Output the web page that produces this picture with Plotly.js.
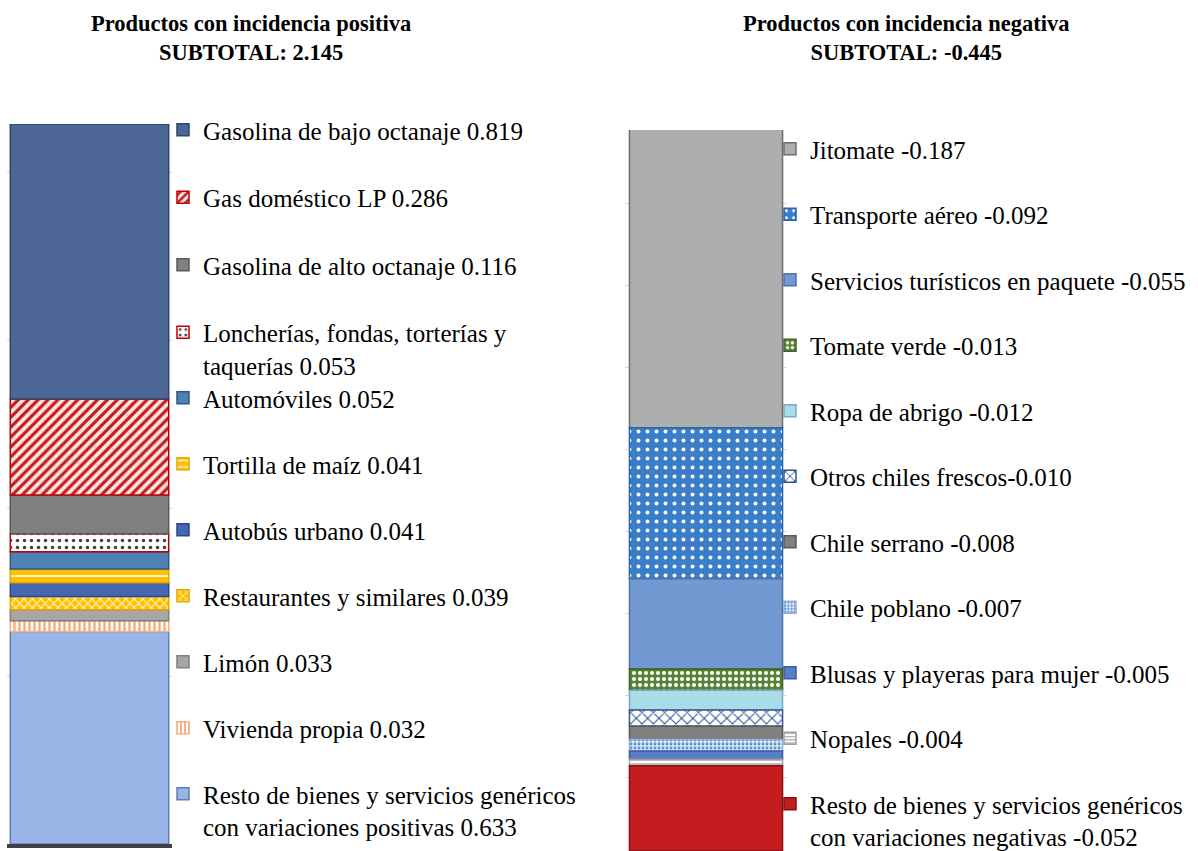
<!DOCTYPE html>
<html><head><meta charset="utf-8">
<script src="https://cdn.plot.ly/plotly-3.0.1.min.js"></script>
<style>body{margin:0;background:#fff}#chart{width:1198px;height:851px}</style>
</head><body><div id="chart"></div>
<script>
// ---- data ----
const posLabels = [
  "Gasolina de bajo octanaje 0.819",
  "Gas doméstico LP 0.286",
  "Gasolina de alto octanaje 0.116",
  "Loncherías, fondas, torterías y<br>taquerías 0.053",
  "Automóviles 0.052",
  "Tortilla de maíz 0.041",
  "Autobús urbano 0.041",
  "Restaurantes y similares 0.039",
  "Limón 0.033",
  "Vivienda propia 0.032",
  "Resto de bienes y servicios genéricos<br>con variaciones positivas 0.633"
];
const posValues = [0.819, 0.286, 0.116, 0.053, 0.052, 0.041, 0.041, 0.039, 0.033, 0.032, 0.633];

const negLabels = [
  "Jitomate -0.187",
  "Transporte aéreo -0.092",
  "Servicios turísticos en paquete -0.055",
  "Tomate verde -0.013",
  "Ropa de abrigo -0.012",
  "Otros chiles frescos-0.010",
  "Chile serrano -0.008",
  "Chile poblano -0.007",
  "Blusas y playeras para mujer -0.005",
  "Nopales -0.004",
  "Resto de bienes y servicios genéricos<br>con variaciones negativas -0.052"
];
const negValues = [-0.187, -0.092, -0.055, -0.013, -0.012, -0.010, -0.008, -0.007, -0.005, -0.004, -0.052];

const categories = ["Incidencia"];

// ---- styles ----
const posStyle = [
  {c:"#4C6795", l:"#2F4468"},
  {c:"#FBE3E3", l:"#C00000", p:{shape:"/", fgcolor:"#C41A1A", bgcolor:"#FBE3E3", size:7, solidity:0.45}},
  {c:"#808080", l:"#5A5A5A"},
  {c:"#FFFFFF", l:"#C00000", p:{shape:".", fgcolor:"#404040", bgcolor:"#FFFFFF", size:7, solidity:0.2}},
  {c:"#4F81B5", l:"#2E5A86"},
  {c:"#FFC000", l:"#E5A800", p:{shape:"-", fgcolor:"#FFF3C8", bgcolor:"#FFC000", size:8, solidity:0.25}},
  {c:"#4567B0", l:"#2C4686"},
  {c:"#FFC000", l:"#E5A800", p:{shape:"x", fgcolor:"#FFF3C8", bgcolor:"#FFC000", size:6, solidity:0.35}},
  {c:"#A6A6A6", l:"#7F7F7F"},
  {c:"#FFFFFF", l:"#F4B183", p:{shape:"|", fgcolor:"#F4B183", bgcolor:"#FFFFFF", size:5, solidity:0.5}},
  {c:"#99B4E6", l:"#5E7DB5"}
];
const negStyle = [
  {c:"#AEAEAE", l:"#6E6E6E"},
  {c:"#3A7DC8", l:"#2A64A8", p:{shape:".", fgcolor:"#FFFFFF", bgcolor:"#3A7DC8", size:9, solidity:0.15}},
  {c:"#7399D2", l:"#4F73AA"},
  {c:"#558235", l:"#3E6325", p:{shape:".", fgcolor:"#FFFFFF", bgcolor:"#558235", size:6, solidity:0.35}},
  {c:"#A8DCE8", l:"#7EA8C8"},
  {c:"#FFFFFF", l:"#2F5597", p:{shape:"x", fgcolor:"#2F5597", bgcolor:"#FFFFFF", size:8, solidity:0.25}},
  {c:"#808080", l:"#5A5A5A"},
  {c:"#CFE0F3", l:"#8FB0D8", p:{shape:".", fgcolor:"#5B8FD0", bgcolor:"#DCE8F6", size:4, solidity:0.4}},
  {c:"#5A7EC6", l:"#3D5E9E"},
  {c:"#FFFFFF", l:"#A0A0A0", p:{shape:"-", fgcolor:"#A0A0A0", bgcolor:"#FFFFFF", size:4, solidity:0.35}},
  {c:"#C41C1F", l:"#8A1012"}
];

const W = 1198, H = 851;
const px = v => v / W;
const py = v => 1 - v / H;
const serif = "Liberation Serif, Times New Roman, serif";

const traces = [];
// positive: stacked bottom-first, so add last item first
for (let i = posValues.length - 1; i >= 0; i--) {
  const s = posStyle[i];
  const m = {color: s.c, line: {color: s.l, width: 1.5}};
  if (s.p) m.pattern = s.p;
  traces.push({
    type: "bar", x: categories, y: [posValues[i]], name: posLabels[i],
    xaxis: "x", yaxis: "y", width: 0.96, marker: m,
    legend: i <= 3 ? "legend" : "legend3", legendgroup: "p" + i, legendrank: i + 1,
    hoverinfo: "name"
  });
}
// negative: first item is nearest to zero (top)
for (let i = 0; i < negValues.length; i++) {
  const s = negStyle[i];
  const m = {color: s.c, line: {color: s.l, width: 1.5}};
  if (s.p) m.pattern = s.p;
  traces.push({
    type: "bar", x: categories, y: [negValues[i]], name: negLabels[i],
    xaxis: "x2", yaxis: "y2", width: 0.945, marker: m,
    legend: "legend2", legendgroup: "n" + i, legendrank: i + 1,
    hoverinfo: "name"
  });
}

const posSubtotal = posValues.reduce((a, b) => a + b, 0);
const negSubtotal = negValues.reduce((a, b) => a + b, 0);

const legendFont = {family: serif, size: 25, color: "#000"};
const legCommon = {xanchor: "left", yanchor: "top", traceorder: "grouped", font: legendFont,
                   bgcolor: "rgba(0,0,0,0)", valign: "top", itemwidth: 30, maxheight: 851};

const layout = {
  width: W, height: H,
  margin: {l: 0, r: 0, t: 0, b: 0, autoexpand: false},
  paper_bgcolor: "#fff", plot_bgcolor: "rgba(0,0,0,0)",
  barmode: "relative",
  showlegend: true,
  xaxis: {domain: [px(7), px(172)], range: [-0.5, 0.5], showticklabels: false, showgrid: false,
          showline: true, linecolor: "#404040", linewidth: 4, ticks: "", fixedrange: true},
  yaxis: {domain: [1 - 844/H, py(124)], range: [0, posSubtotal], showticklabels: false, showgrid: true,
          gridcolor: "#D9D9D9", dtick: 0.5, tick0: 0, zeroline: false, ticks: "", fixedrange: true},
  xaxis2: {domain: [px(625), px(787)], range: [-0.5, 0.5], showticklabels: false, showgrid: false,
           showline: false, ticks: "", fixedrange: true, anchor: "y2"},
  yaxis2: {domain: [0, py(130)], range: [negSubtotal, -0.0055], showticklabels: false, showgrid: true,
           gridcolor: "#D9D9D9", dtick: 0.05, tick0: 0, zeroline: false, ticks: "", fixedrange: true, anchor: "x2"},
  legend: Object.assign({}, legCommon, {x: px(163), y: py(107), tracegroupgap: 32}),
  legend3: Object.assign({}, legCommon, {x: px(163), y: py(375), tracegroupgap: 30.5}),
  legend2: Object.assign({}, legCommon, {x: px(770), y: py(126), tracegroupgap: 30}),
  annotations: [
    {xref: "paper", yref: "paper", x: px(251), y: py(9), xanchor: "center", yanchor: "top", showarrow: false,
     text: "<b>Productos con incidencia positiva<br>SUBTOTAL: " + posSubtotal.toFixed(3) + "</b>",
     font: {family: serif, size: 22.5, color: "#000"}},
    {xref: "paper", yref: "paper", x: px(906), y: py(9), xanchor: "center", yanchor: "top", showarrow: false,
     text: "<b>Productos con incidencia negativa<br>SUBTOTAL: " + negSubtotal.toFixed(3) + "</b>",
     font: {family: serif, size: 22.5, color: "#000"}}
  ]
};

Plotly.newPlot("chart", traces, layout, {displayModeBar: false, staticPlot: true});
</script>
</body></html>
